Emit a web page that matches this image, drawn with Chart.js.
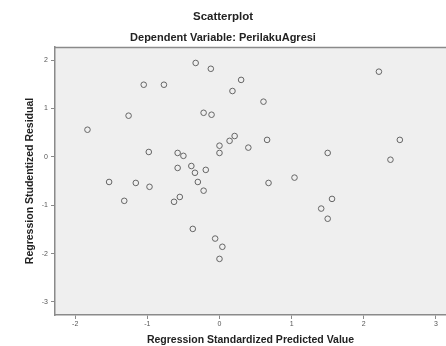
<!DOCTYPE html>
<html>
<head>
<meta charset="utf-8">
<script src="https://cdn.jsdelivr.net/npm/chart.js@4"></script>
<style>
  html, body { margin: 0; padding: 0; background: #fff; }
  #wrap { width: 446px; height: 346px; }
</style>
</head>
<body>
<div id="wrap"><canvas id="myChart"></canvas></div>
<script>
// Werte
const predicted = [
  -0.33, -0.12, -1.05, -0.77, 2.21, 0.30, 0.18, 0.61, -1.26, -0.22,
  -0.11, -1.83, 0.21, 0.14, 0.00, 0.00, 0.66, 0.40, -0.98, -0.58,
  -0.50, 1.50, 2.50, 2.37, -0.58, -0.39, -0.34, -0.19, -1.53, -1.16,
  -0.97, -0.30, -0.22, 0.68, 1.04, -1.32, -0.55, -0.63, 1.56, 1.41,
  1.50, -0.37, -0.06, 0.04, 0.00
];
const residual = [
  1.94, 1.82, 1.49, 1.49, 1.76, 1.59, 1.36, 1.14, 0.85, 0.91,
  0.87, 0.56, 0.43, 0.33, 0.23, 0.08, 0.35, 0.19, 0.10, 0.08,
  0.02, 0.08, 0.35, -0.06, -0.23, -0.19, -0.33, -0.27, -0.52, -0.54,
  -0.62, -0.52, -0.70, -0.54, -0.43, -0.91, -0.83, -0.93, -0.87, -1.07,
  -1.28, -1.49, -1.69, -1.86, -2.11
];
const xTicks = [-2, -1, 0, 1, 2, 3];
const yTicks = [-3, -2, -1, 0, 1, 2];

// Plot-Hintergrund + Rahmen oben
const plotBg = {
  id: 'plotBg',
  beforeDraw(chart) {
    const {ctx, chartArea: a} = chart;
    ctx.save();
    ctx.fillStyle = '#efefef';
    ctx.fillRect(a.left, a.top, a.right - a.left, a.bottom - a.top);
    ctx.strokeStyle = '#8a8a8a';
    ctx.lineWidth = 1.5;
    ctx.beginPath();
    ctx.moveTo(a.left, a.top + 0.5);
    ctx.lineTo(a.right, a.top + 0.5);
    ctx.stroke();
    ctx.restore();
  }
};

window.onload = function() {
  const ctx = document.getElementById('myChart').getContext('2d');

  new Chart(ctx, {
    type: 'scatter',
    data: {
      datasets: [{
        data: predicted.map((x, i) => ({x: x, y: residual[i]})),
        pointStyle: 'circle',
        pointRadius: 2.8,
        pointBorderWidth: 1,
        borderColor: '#666',
        backgroundColor: 'rgba(0,0,0,0)'
      }]
    },
    options: {
      responsive: true,
      maintainAspectRatio: false,
      animation: false,
      layout: { padding: 0, autoPadding: false },
      plugins: {
        legend: { display: false },
        tooltip: { enabled: false },
        title: {
          display: true,
          text: 'Scatterplot',
          color: '#222',
          font: { family: 'Arial, "Liberation Sans"', size: 11.5, weight: 'bold' },
          padding: { top: 10, bottom: 4 }
        },
        subtitle: {
          display: true,
          text: 'Dependent Variable: PerilakuAgresi',
          color: '#222',
          font: { family: 'Arial, "Liberation Sans"', size: 11, weight: 'bold' },
          padding: { top: 4, bottom: 2 }
        }
      },
      scales: {
        x: {
          type: 'linear',
          min: -2.28,
          max: 3.14,
          afterBuildTicks: s => { s.ticks = xTicks.map(v => ({value: v})); },
          afterFit: s => { s.height = 31; s.paddingRight = 0; s.paddingLeft = 0; },
          border: { display: true, color: '#8a8a8a', width: 1.5 },
          grid: { drawOnChartArea: false, drawTicks: true, tickLength: 4, color: '#8a8a8a' },
          ticks: { color: '#555', font: { family: 'Arial, "Liberation Sans"', size: 7 }, padding: 1 },
          title: {
            display: true,
            text: 'Regression Standardized Predicted Value',
            color: '#222',
            font: { family: 'Arial, "Liberation Sans"', size: 10.5, weight: 'bold' },
            padding: { top: 0, bottom: 0 }
          }
        },
        y: {
          type: 'linear',
          min: -3.27,
          max: 2.27,
          afterBuildTicks: s => { s.ticks = yTicks.map(v => ({value: v})); },
          afterFit: s => { s.width = 55; },
          border: { display: true, color: '#8a8a8a', width: 1.5 },
          grid: { drawOnChartArea: false, drawTicks: true, tickLength: 4, color: '#8a8a8a' },
          ticks: { color: '#555', font: { family: 'Arial, "Liberation Sans"', size: 7 }, padding: 3 },
          title: {
            display: true,
            text: 'Regression Studentized Residual',
            color: '#222',
            font: { family: 'Arial, "Liberation Sans"', size: 10.5, weight: 'bold' },
            padding: { top: 24, bottom: 0 }
          }
        }
      }
    },
    plugins: [plotBg]
  });
};
</script>
</body>
</html>
